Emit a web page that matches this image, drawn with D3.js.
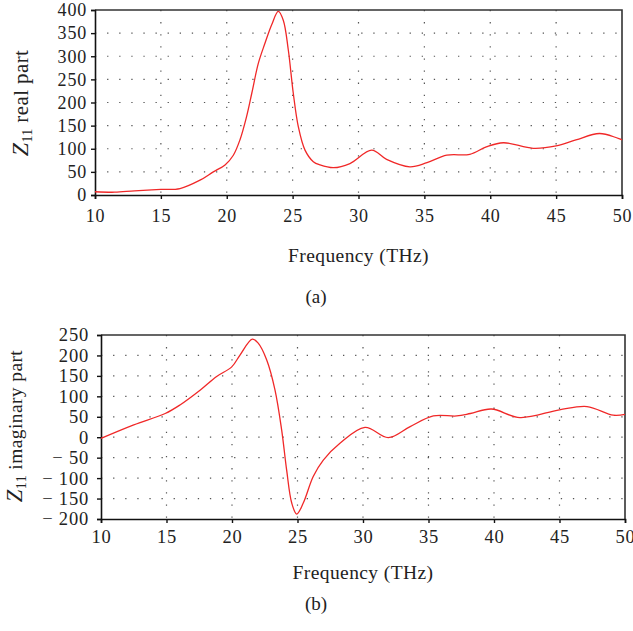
<!DOCTYPE html>
<html>
<head>
<meta charset="utf-8">
<script src="https://cdn.jsdelivr.net/npm/d3@7"></script>
<style>
  body { margin: 0; background: #fff; }
  svg text { font-family: "Liberation Serif", "DejaVu Serif", serif; fill: #222; }
</style>
</head>
<body>
<svg id="chart" width="633" height="631"></svg>
<script>
// frequency ticks shared by both panels
var freqTicks = [10, 15, 20, 25, 30, 35, 40, 45, 50];

// (a) real part of Z11
var realTicks = [0, 50, 100, 150, 200, 250, 300, 350, 400];
var realFreq = [10, 11.5, 13, 15, 16.45, 17.97, 18.98, 19.87, 20.5, 21.0, 21.5, 21.9, 22.4, 22.9, 23.41, 23.91, 24.29, 24.67, 25.05, 25.43, 25.94, 26.57, 27.08, 28.1, 29.35, 31.0, 32.13, 33.9, 35.2, 36.7, 38.45, 39.7, 41.0, 43.25, 45.0, 46.5, 48.3, 50];
var realVal  = [7, 6, 9, 12, 14, 32, 50, 65, 86, 119, 169, 220, 285, 328, 368, 397, 378, 314, 220, 148, 97, 72, 65, 59, 68, 97, 77, 61, 70, 86, 88, 104, 113, 101, 106, 119, 133, 119];

// (b) imaginary part of Z11
var imagTicks = [-200, -150, -100, -50, 0, 50, 100, 150, 200, 250];
var imagFreq = [10, 12.5, 14.9, 16.03, 17.56, 18.8, 19.98, 20.61, 21.55, 22.0, 22.65, 23.28, 23.79, 24.17, 24.56, 24.94, 25.44, 26.2, 26.97, 28.24, 30.15, 31.93, 33.6, 35.37, 37.15, 38.2, 39.8, 41.98, 45.0, 47.1, 49.1, 50];
var imagVal  = [-3, 30, 58, 79, 115, 148, 172, 201, 240, 230, 189, 116, 18, -80, -161, -188, -161, -96, -56, -15, 24, -1, 26, 52, 52, 58, 69, 48, 67, 75, 54, 56];

var svg = d3.select("#chart");

function minusFmt(d) { return d < 0 ? "\u2212 " + Math.abs(d) : String(d); }

function drawPanel(opt) {
    var x = d3.scaleLinear().domain([10, 50]).range([opt.left, opt.right]);
    var y = d3.scaleLinear().domain(opt.yDomain).range([opt.bottom, opt.top]);
    var g = svg.append("g");

    // dotted grid
    g.selectAll(".hgrid")
        .data(opt.yTicks.slice(1, -1))
      .enter().append("line")
        .attr("x1", opt.left).attr("x2", opt.right)
        .attr("y1", function(d) { return y(d); })
        .attr("y2", function(d) { return y(d); })
        .attr("stroke", "#555").attr("stroke-width", 1.2)
        .attr("stroke-dasharray", "1.3,10.8");
    g.selectAll(".vgrid")
        .data(freqTicks.slice(1, -1))
      .enter().append("line")
        .attr("y1", opt.top).attr("y2", opt.bottom)
        .attr("x1", function(d) { return x(d); })
        .attr("x2", function(d) { return x(d); })
        .attr("stroke", "#555").attr("stroke-width", 1.2)
        .attr("stroke-dasharray", "1.3,10.8");

    // frame top / right
    g.append("path")
        .attr("d", "M" + opt.left + "," + opt.top + "H" + opt.right + "V" + opt.bottom)
        .attr("fill", "none").attr("stroke", "#333").attr("stroke-width", 1.6);

    // axes
    var xAxis = g.append("g")
        .attr("transform", "translate(0," + opt.bottom + ")")
        .call(d3.axisBottom(x).tickValues(freqTicks).tickSize(4).tickPadding(opt.xPad));
    var yAxis = g.append("g")
        .attr("transform", "translate(" + opt.left + ",0)")
        .call(d3.axisLeft(y).tickValues(opt.yTicks).tickSize(4).tickPadding(opt.yPad).tickFormat(minusFmt));
    [xAxis, yAxis].forEach(function(a) {
        a.select(".domain").attr("stroke", "#111").attr("stroke-width", 1.6);
        a.selectAll(".tick line").attr("stroke", "#111").attr("stroke-width", 1.4);
        a.selectAll("text").attr("font-size", opt.fontSize).attr("fill", "#222")
         .attr("letter-spacing", 0.8)
         .style("font-family", "Liberation Serif, serif");
    });

    // curve
    var line = d3.line()
        .x(function(d, i) { return x(opt.freq[i]); })
        .y(function(d) { return y(d); })
        .curve(d3.curveCatmullRom.alpha(0.5));
    g.append("path")
        .datum(opt.vals)
        .attr("d", line)
        .attr("fill", "none")
        .attr("stroke", "#f02828")
        .attr("stroke-width", 1.3);

    // axis titles
    g.append("text")
        .attr("x", (opt.left + opt.right) / 2)
        .attr("y", opt.xTitleY)
        .attr("text-anchor", "middle")
        .attr("font-size", 19.5)
        .attr("letter-spacing", 0.4)
        .text("Frequency (THz)");
    var yt = g.append("text")
        .attr("transform", "translate(" + opt.yTitleX + "," + opt.yTitleY + ") rotate(-90)")
        .attr("text-anchor", "middle")
        .attr("font-size", opt.yTitleSize)
        .attr("letter-spacing", 0.4);
    yt.append("tspan").attr("font-style", "italic").attr("font-size", opt.yTitleSize + 3).text("Z");
    yt.append("tspan").attr("dy", 4).attr("font-size", 14).text("11");
    yt.append("tspan").attr("dy", -4).text(" " + opt.yName);

    g.append("text")
        .attr("x", 316)
        .attr("y", opt.capY)
        .attr("text-anchor", "middle")
        .attr("font-size", 19)
        .text(opt.cap);
}

drawPanel({
    left: 95, right: 622, top: 10, bottom: 195,
    yDomain: [0, 400], yTicks: realTicks,
    freq: realFreq, vals: realVal,
    fontSize: 18, xPad: 10, yPad: 4,
    xTitleY: 262, yTitleX: 28, yTitleY: 103, yTitleSize: 21, yName: "real part",
    cap: "(a)", capY: 303
});

drawPanel({
    left: 101, right: 625, top: 335, bottom: 519,
    yDomain: [-200, 250], yTicks: imagTicks,
    freq: imagFreq, vals: imagVal,
    fontSize: 18.5, xPad: 7, yPad: 8,
    xTitleY: 579, yTitleX: 22, yTitleY: 426, yTitleSize: 19.5, yName: "imaginary part",
    cap: "(b)", capY: 610
});
</script>
</body>
</html>
